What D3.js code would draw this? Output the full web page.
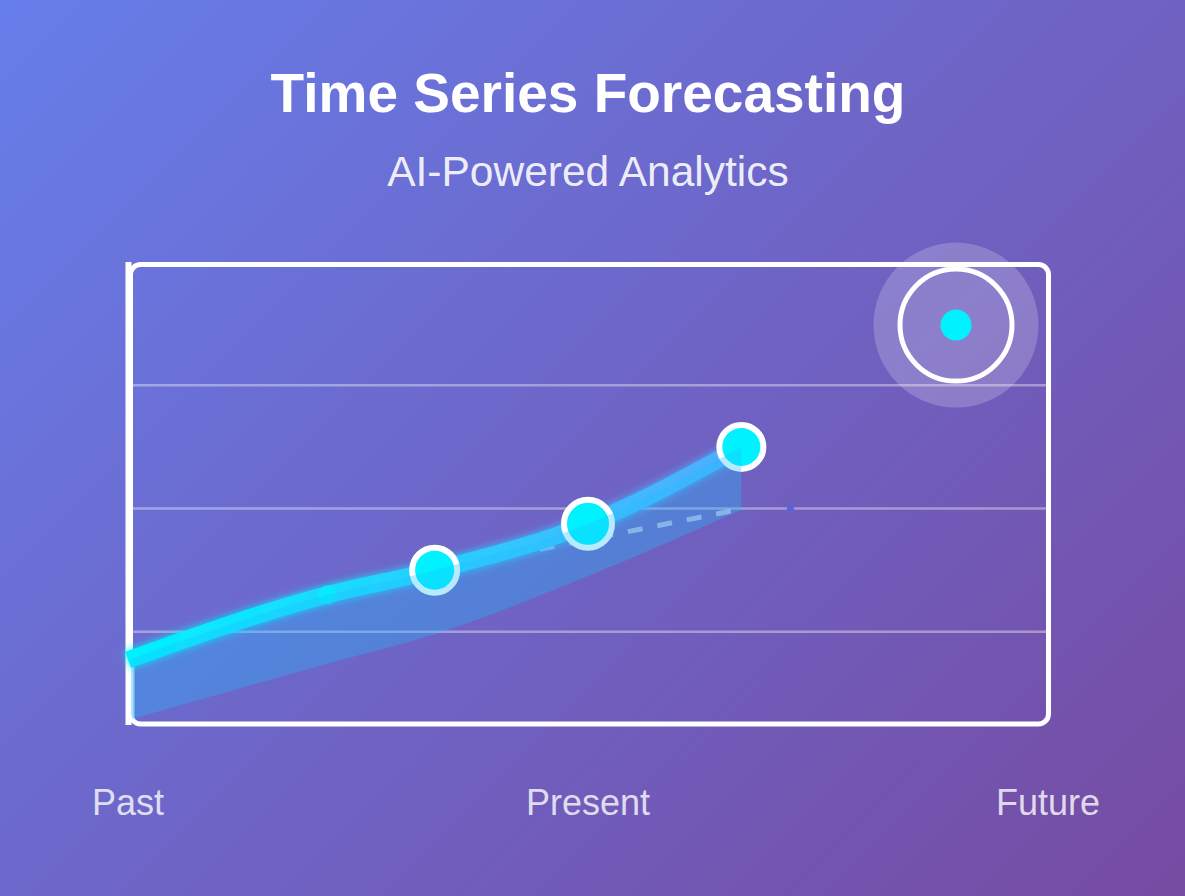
<!DOCTYPE html>
<html>
<head>
<meta charset="utf-8">
<script src="https://cdn.jsdelivr.net/npm/d3@7"></script>
<style>
  html, body { margin: 0; padding: 0; overflow: hidden; }
  svg { display: block; }
</style>
</head>
<body>
<script>
// ---------- data ----------
const titleText = "Time Series Forecasting";
const subtitleText = "AI-Powered Analytics";

// time index (0 = past ... 60 = future)
const timeIdx    = [0, 13, 20, 30, 40];
const actual     = [19.3, 32.5, 37.5, 46.9, 62.5];   // observed series
const lowerBound = [7.1, 18.5, 24.5, 36.3, 49.7];    // lower confidence band

const forecastX  = [20, 40];        // dashed trend line
const forecastY  = [37.5, 49.9];

const targetX    = [54];            // forecast target
const targetY    = [87.2];

const markerX    = [43.2];
const markerY    = [50];

const gridTicks  = [25, 50, 75];

const timeLabels = ["Past", "Present", "Future"];
const labelIdx   = [0, 30, 60];

// ---------- layout / style ----------
const W = 1185, H = 896;
const xDomain = [0, 60], yDomain = [0, 100];
const bigIdx = [2, 3, 4];          // highlighted points
const bigR   = [22.5, 24, 22];
const smallIdx = [1];

const svg = d3.select("body").append("svg")
  .attr("width", W).attr("height", H);

const x = d3.scaleLinear().domain(xDomain).range([128, 1048]);
const y = d3.scaleLinear().domain(yDomain).range([755, 262]);

const defs = svg.append("defs");

// background gradient (135deg)
const bg = defs.append("linearGradient").attr("id", "bg")
  .attr("gradientUnits", "userSpaceOnUse")
  .attr("x1", 72.3).attr("y1", -72.2).attr("x2", 1112.7).attr("y2", 968.2);
bg.append("stop").attr("offset", "0%").attr("stop-color", "#667eea");
bg.append("stop").attr("offset", "100%").attr("stop-color", "#764ba2");

const lg = defs.append("linearGradient").attr("id", "lineGrad")
  .attr("gradientUnits", "userSpaceOnUse")
  .attr("x1", x(timeIdx[0])).attr("y1", 0)
  .attr("x2", x(timeIdx[timeIdx.length - 1])).attr("y2", 0);
lg.append("stop").attr("offset", "0%").attr("stop-color", "#00f2fe");
lg.append("stop").attr("offset", "100%").attr("stop-color", "#4facfe");

const glow = defs.append("filter").attr("id", "glow")
  .attr("x", "-20%").attr("y", "-60%").attr("width", "140%").attr("height", "220%");
glow.append("feGaussianBlur").attr("stdDeviation", 4).attr("result", "b");
const fm = glow.append("feMerge");
fm.append("feMergeNode").attr("in", "b");
fm.append("feMergeNode").attr("in", "SourceGraphic");

defs.append("clipPath").attr("id", "plotClip")
  .append("rect").attr("x", 131).attr("y", 262).attr("width", 917).attr("height", 461.5).attr("rx", 10);

svg.append("rect").attr("width", W).attr("height", H).attr("fill", "url(#bg)");

// title
svg.append("text").attr("x", 588).attr("y", 112)
  .attr("text-anchor", "middle")
  .attr("font-family", "'Liberation Sans', Arial, sans-serif")
  .attr("font-weight", "bold").attr("font-size", 55)
  .attr("fill", "#ffffff").text(titleText);

svg.append("text").attr("x", 588).attr("y", 186)
  .attr("text-anchor", "middle")
  .attr("font-family", "'Liberation Sans', Arial, sans-serif")
  .attr("font-size", 42.5)
  .attr("fill", "rgba(255,255,255,0.9)").text(subtitleText);

// grid
svg.append("g").selectAll("line").data(gridTicks).join("line")
  .attr("x1", 131).attr("x2", 1046)
  .attr("y1", d => y(d)).attr("y2", d => y(d))
  .attr("stroke", "rgba(255,255,255,0.38)").attr("stroke-width", 2.5);

// frame
svg.append("rect").attr("x", 130.5).attr("y", 264.5)
  .attr("width", 1048.5 - 130.5).attr("height", 459.5).attr("rx", 10)
  .attr("fill", "none").attr("stroke", "#ffffff").attr("stroke-width", 5);
svg.append("line").attr("x1", 128.5).attr("x2", 128.5).attr("y1", 262).attr("y2", 725)
  .attr("stroke", "#ffffff").attr("stroke-width", 6);

// band left edge highlight
svg.append("line")
  .attr("x1", 133).attr("x2", 133)
  .attr("y1", y(actual[0])).attr("y2", y(lowerBound[0]))
  .attr("clip-path", "url(#plotClip)")
  .attr("stroke", "rgba(210,250,255,0.75)").attr("stroke-width", 3);

// dashed trend
svg.append("path")
  .datum(forecastX.map((d, i) => [d, forecastY[i]]))
  .attr("d", d3.line().x(d => x(d[0])).y(d => y(d[1])))
  .attr("fill", "none").attr("stroke", "rgba(255,255,255,0.5)")
  .attr("stroke-width", 5).attr("stroke-dasharray", "15,15").attr("stroke-dashoffset", 13);

// main line
const pts = timeIdx.map((d, i) => [d, actual[i]]);
svg.append("path").datum(pts)
  .attr("d", d3.line().x(d => x(d[0])).y(d => y(d[1])).curve(d3.curveMonotoneX))
  .attr("fill", "none").attr("stroke", "url(#lineGrad)").attr("stroke-width", 17)
  .attr("filter", "url(#glow)");

// small point
svg.append("g").selectAll("circle").data(smallIdx).join("circle")
  .attr("cx", i => x(timeIdx[i])).attr("cy", i => y(actual[i]))
  .attr("r", 9.5).attr("fill", "#00f2fe").attr("opacity", 0.7);

// highlighted points
svg.append("g").selectAll("circle").data(bigIdx).join("circle")
  .attr("cx", i => x(timeIdx[i])).attr("cy", i => y(actual[i]))
  .attr("r", (i, k) => bigR[k]).attr("fill", "#00f2fe")
  .attr("stroke", "#ffffff").attr("stroke-width", 6);

// confidence band
const band = timeIdx.map((d, i) => ({ t: d, hi: actual[i], lo: lowerBound[i] }));
svg.append("path").datum(band)
  .attr("clip-path", "url(#plotClip)")
  .attr("d", d3.area().x(d => x(d.t)).y0(d => y(d.lo)).y1(d => y(d.hi)).curve(d3.curveMonotoneX))
  .attr("fill", "rgba(30,190,255,0.32)");

// target
const tg = svg.append("g").selectAll("g").data(targetX.map((d, i) => [d, targetY[i]])).join("g");
tg.append("circle").attr("cx", d => x(d[0])).attr("cy", d => y(d[1])).attr("r", 82.5)
  .attr("fill", "rgba(255,255,255,0.2)");
tg.append("circle").attr("cx", d => x(d[0])).attr("cy", d => y(d[1])).attr("r", 56)
  .attr("fill", "none").attr("stroke", "#ffffff").attr("stroke-width", 5);
tg.append("circle").attr("cx", d => x(d[0])).attr("cy", d => y(d[1])).attr("r", 15.5)
  .attr("fill", "#00f2fe");

// tiny marker
svg.append("g").selectAll("rect").data(markerX.map((d, i) => [d, markerY[i]])).join("rect")
  .attr("x", d => x(d[0]) - 3.5).attr("y", d => y(d[1]) - 1.5)
  .attr("width", 7).attr("height", 3).attr("fill", "#3d5cff").attr("opacity", 0.85);

// time labels
svg.append("g").selectAll("text").data(timeLabels).join("text")
  .attr("x", (d, i) => x(labelIdx[i])).attr("y", 815)
  .attr("text-anchor", "middle")
  .attr("font-family", "'Liberation Sans', Arial, sans-serif")
  .attr("font-size", 36)
  .attr("fill", "rgba(255,255,255,0.8)").text(d => d);
</script>
</body>
</html>
